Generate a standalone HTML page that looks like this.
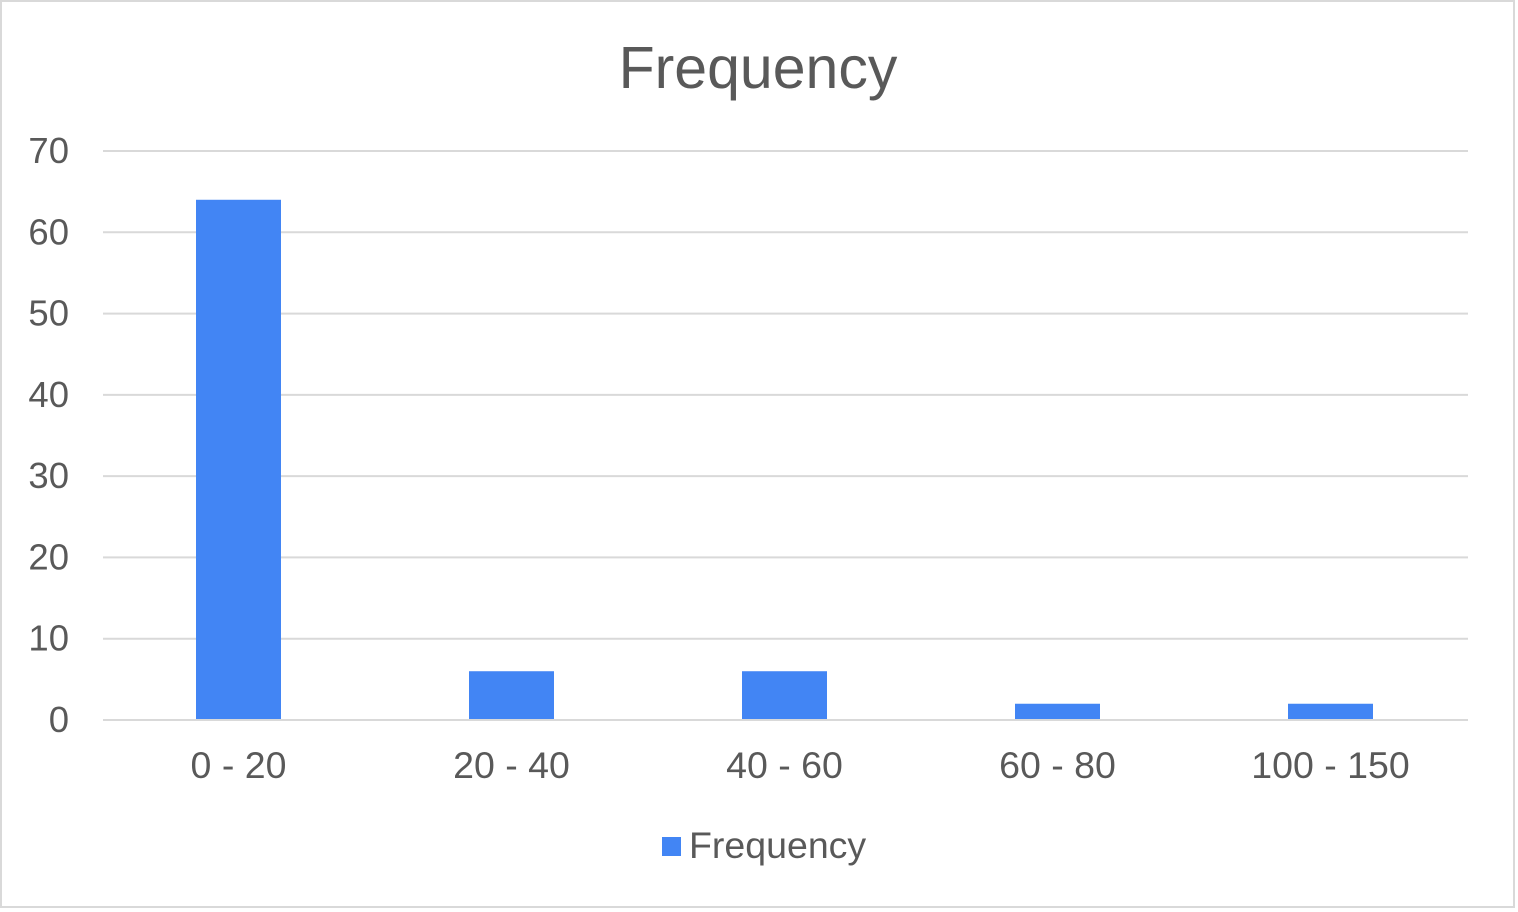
<!DOCTYPE html>
<html><head><meta charset="utf-8"><style>
body{margin:0;background:#fff;}
svg{display:block;font-family:"Liberation Sans",Arial,sans-serif;}
</style></head><body>
<svg id="chart" width="1518" height="912">
<rect x="1" y="1" width="1513" height="906" fill="#fff" stroke="#d9d9d9" stroke-width="2"/>
<text x="758" y="88" text-anchor="middle" font-size="59" fill="#595959">Frequency</text>
<g id="grid"></g><g id="bars"></g><g id="xlabels"></g>
<rect x="662" y="837" width="19" height="19" fill="#4285F4"/>
<text x="689" y="858" font-size="37.5" fill="#595959">Frequency</text>
</svg>
<script>
const categories=["0 - 20","20 - 40","40 - 60","60 - 80","100 - 150"];
const values=[64,6,6,2,2];
const ticks=[0,10,20,30,40,50,60,70];
const NS="http://www.w3.org/2000/svg";
const L=103,R=1468,Y0=720,Y70=151,MAX=70;
const y=v=>Y0-(v/MAX)*(Y0-Y70);
const bw=(R-L)/categories.length;
const xc=i=>L+bw*(i+0.5);
function mk(t,a,p){const e=document.createElementNS(NS,t);for(const k in a)e.setAttribute(k,a[k]);p.appendChild(e);return e;}
const g=document.getElementById('grid');
ticks.forEach(t=>{
 const ln=mk('line',{x1:L,x2:R,y1:y(t),y2:y(t),stroke:'#d9d9d9','stroke-width':2},g);
 
 
 const tx=mk('text',{x:69,y:y(t)+12,'text-anchor':'end','font-size':36.5,fill:'#595959'},g);
 tx.textContent=t;
 
 
});
const b=document.getElementById('bars'),xl=document.getElementById('xlabels');
categories.forEach((c,i)=>{
 const w=85;
 const r=mk('rect',{x:xc(i)-w/2-1,y:y(values[i]),width:w,height:Y0-y(values[i])-1,fill:'#4285F4'},b);
 
 
 const t=mk('text',{x:xc(i)-1,y:778,'text-anchor':'middle','font-size':37.5,fill:'#595959'},xl);
 t.textContent=c;
 
 
});
</script>
</body></html>
